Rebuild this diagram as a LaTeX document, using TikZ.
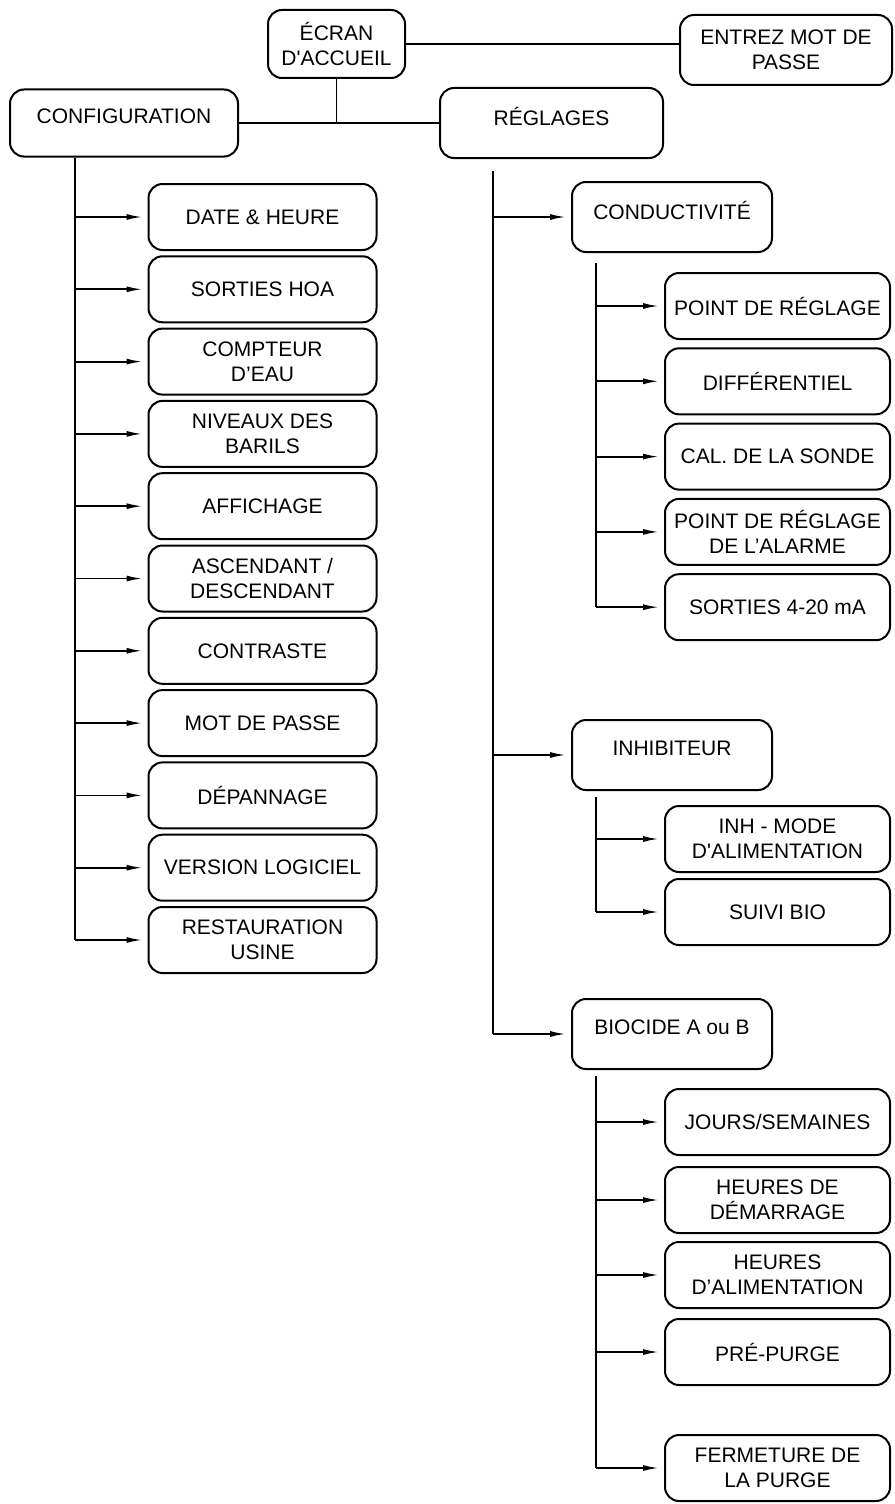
\documentclass[tikz,border=0pt]{standalone}
\usepackage{fontspec}
\setmainfont{Liberation Sans}
\usetikzlibrary{arrows.meta}

\begin{document}
\begin{tikzpicture}[x=0.5pt,y=-0.5pt]
	\tikzset{
		menubox/.style={draw, line width=1pt, rounded corners=7pt, fill=white, align=center,
			minimum width=114pt, minimum height=33pt, inner sep=1pt,
			font=\fontsize{10.5}{12.5}\selectfont},
		oneline/.style={text depth=7pt},
		link/.style={line width=0.9pt},
		feed/.style={line width=0.9pt, -{Latex[length=8pt,width=3pt]}, shorten >=2.5pt}
	}
	\useasboundingbox (0,0) rectangle (894,1504);
	% top row
	\node[menubox, minimum width=68.5pt, minimum height=34pt] (accueil) at (336.5,44) {ÉCRAN\\D\textquotesingle ACCUEIL};
	\node[menubox, minimum width=106pt, minimum height=35pt] (motpasse) at (786,50) {ENTREZ MOT DE\\PASSE};
	\node[menubox, oneline, minimum height=33.5pt] (config) at (124,123) {CONFIGURATION};
	\node[menubox, oneline, minimum width=111.5pt, minimum height=35pt] (reglages) at (551.5,123) {RÉGLAGES};
	\coordinate (hub) at (accueil.south |- config.east);
	\draw[link] (accueil.east) -- (accueil.east -| motpasse.west);
	\draw[link] (accueil) -- (hub);
	\draw[link] (config) -- (reglages);
	% trunks
	\coordinate (ctrunk) at (75,0);
	\coordinate (rtrunk) at (493,0);
	\coordinate (strunk) at (596,0);
	% configuration
	\foreach \txt [count=\i from 0] in {DATE \& HEURE, SORTIES HOA, COMPTEUR\\D’EAU, NIVEAUX DES\\BARILS,
			AFFICHAGE, ASCENDANT /\\DESCENDANT, CONTRASTE, MOT DE PASSE, DÉPANNAGE, VERSION LOGICIEL,
			RESTAURATION\\USINE} {
			\pgfmathsetmacro{\y}{217 + 72.3*\i}
			\node[menubox] (c\i) at (262.5,\y) {\txt};
			\draw[feed] (ctrunk |- c\i.west) -- (c\i.west);
		}
	\draw[link] (config.south -| ctrunk) -- (ctrunk |- c10.west);
	% reglages
	\foreach \txt/\y [count=\i from 0] in {CONDUCTIVITÉ/217, INHIBITEUR/755, BIOCIDE A ou B/1034} {
			\node[menubox, oneline, minimum width=100pt, minimum height=35pt] (r\i) at (672,\y) {\txt};
			\draw[feed] (rtrunk |- r\i.west) -- (r\i.west);
		}
	\draw[link, shorten <=6pt] (reglages.south -| rtrunk) -- (rtrunk |- r2.west);
	% conductivite
	\foreach \txt [count=\i from 0] in {POINT DE RÉGLAGE, DIFFÉRENTIEL, CAL. DE LA SONDE,
			POINT DE RÉGLAGE\\DE L’ALARME, SORTIES 4-20 mA} {
			\pgfmathsetmacro{\y}{306 + 75.3*\i}
			\node[menubox, minimum width=112.5pt] (k\i) at (777.5,\y) {\txt};
			\draw[feed] (strunk |- k\i.west) -- (k\i.west);
		}
	\draw[link, shorten <=5pt] (r0.south -| strunk) -- (strunk |- k4.west);
	% inhibiteur
	\foreach \txt [count=\i from 0] in {INH - MODE\\D\textquotesingle ALIMENTATION, SUIVI BIO} {
			\pgfmathsetmacro{\y}{839 + 73*\i}
			\node[menubox, minimum width=112.5pt] (h\i) at (777.5,\y) {\txt};
			\draw[feed] (strunk |- h\i.west) -- (h\i.west);
		}
	\draw[link, shorten <=3pt] (r1.south -| strunk) -- (strunk |- h1.west);
	% biocide
	\foreach \txt/\y [count=\i from 0] in {{JOURS/SEMAINES}/1122, {HEURES DE\\DÉMARRAGE}/1200,
			{HEURES\\D’ALIMENTATION}/1275, {PRÉ-PURGE}/1352, {FERMETURE DE\\LA PURGE}/1468} {
			\node[menubox, minimum width=112.5pt] (b\i) at (777.5,\y) {\txt};
			\draw[feed] (strunk |- b\i.west) -- (b\i.west);
		}
	\draw[link, shorten <=3pt] (r2.south -| strunk) -- (strunk |- b4.west);
\end{tikzpicture}
\end{document}
